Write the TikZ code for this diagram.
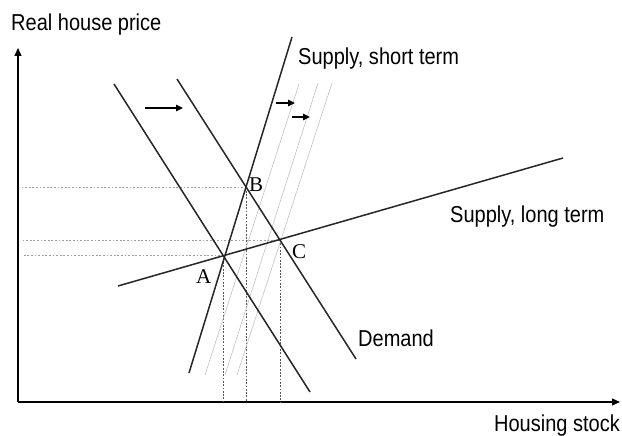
\documentclass[tikz,border=0pt]{standalone}
\usepackage{fontspec}
\usepackage{graphicx}
\setmainfont{Liberation Serif}
\newfontfamily\labelfont{Liberation Sans}
\usetikzlibrary{arrows.meta}
\tikzset{
  curve/.style={line width=1.5pt, black!85},
  shifted/.style={line width=0.5pt, gray!55},
  guideh/.style={line width=0.8pt, gray!75, dash pattern=on 1.8pt off 1.8pt},
  guidev/.style={line width=0.8pt, black!65, dash pattern=on 1.8pt off 1.5pt},
  axis/.style={line width=1.1pt, -{Triangle[length=8pt,width=7pt]}},
  shiftarrow/.style={line width=1.3pt, -{Triangle[length=7pt,width=6.5pt]}},
  axlabel/.style={inner sep=0pt, font=\labelfont\fontsize{23}{27}\selectfont},
  ptlabel/.style={inner sep=0pt, font=\fontsize{21}{25}\selectfont}
}
\begin{document}
\begin{tikzpicture}[x=1pt,y=-1pt]
\useasboundingbox (0,0) rectangle (622,436);
% axes
\coordinate (O) at (18,402);
\coordinate (ytop) at (18,48);
\coordinate (xend) at (620,402);
\draw[axis] (O) -- (ytop);
\draw[axis] (O) -- (xend);
% equilibrium points
\coordinate (A) at (223.5,255.5);
\coordinate (B) at (246.5,187.5);
\coordinate (C) at (280,240);
% guide lines
\draw[guideh] (A) -- (A -| 22,0);
\draw[guideh] (B) -- (B -| 20,0);
\draw[guideh] (C) -- (C -| 22,0);
\draw[guidev] (A) -- (A |- O);
\draw[guidev] (B) -- (B |- O);
\draw[guidev] (C) -- (C |- O);
% shifted short-term supply curves
\coordinate (g1t) at (299,84);  \coordinate (g1b) at (205,375);
\coordinate (g2t) at (318,83);  \coordinate (g2b) at (225,375);
\coordinate (g3t) at (332,83);  \coordinate (g3b) at (237,375);
\draw[shifted] (g1b) -- (g1t);
\draw[shifted] (g2b) -- (g2t);
\draw[shifted] (g3b) -- (g3t);
% main curves
\coordinate (sst) at (292,37);  \coordinate (ssb) at (189,373);
\coordinate (d1t) at (114,84);  \coordinate (d1b) at (310,392);
\coordinate (d2t) at (177,79);  \coordinate (d2b) at (356,359);
\coordinate (slb) at (118,286); \coordinate (slt) at (563,158);
\draw[curve] (ssb) -- (sst);
\draw[curve] (d1t) -- (d1b);
\draw[curve] (d2t) -- (d2b);
\draw[curve] (slb) -- (slt);
% shift arrows
\coordinate (a1s) at (145,108); \coordinate (a1e) at (183,108);
\coordinate (a2s) at (276,103); \coordinate (a2e) at (295,103);
\coordinate (a3s) at (292,117); \coordinate (a3e) at (310,117);
\draw[shiftarrow] (a1s) -- (a1e);
\draw[shiftarrow] (a2s) -- (a2e);
\draw[shiftarrow] (a3s) -- (a3e);
% labels
\node[axlabel, anchor=base west] (ylab) at (11,30.7) {\scalebox{0.87}[1]{Real house price}};
\node[axlabel, anchor=base east] (xlab) at (620,431) {\scalebox{0.87}[1]{Housing stock}};
\node[axlabel, anchor=base west] (sslab) at (298,65) {\scalebox{0.87}[1]{Supply, short term}};
\node[axlabel, anchor=base west] (sllab) at (450,222) {\scalebox{0.87}[1]{Supply, long term}};
\node[axlabel, anchor=base west] (dlab) at (358,346) {\scalebox{0.87}[1]{Demand}};
\node[ptlabel, anchor=base west] (alab) at (196,283) {A};
\node[ptlabel, anchor=base west] (blab) at (249,191) {B};
\node[ptlabel, anchor=base west] (clab) at (292,258) {C};
\end{tikzpicture}
\end{document}
